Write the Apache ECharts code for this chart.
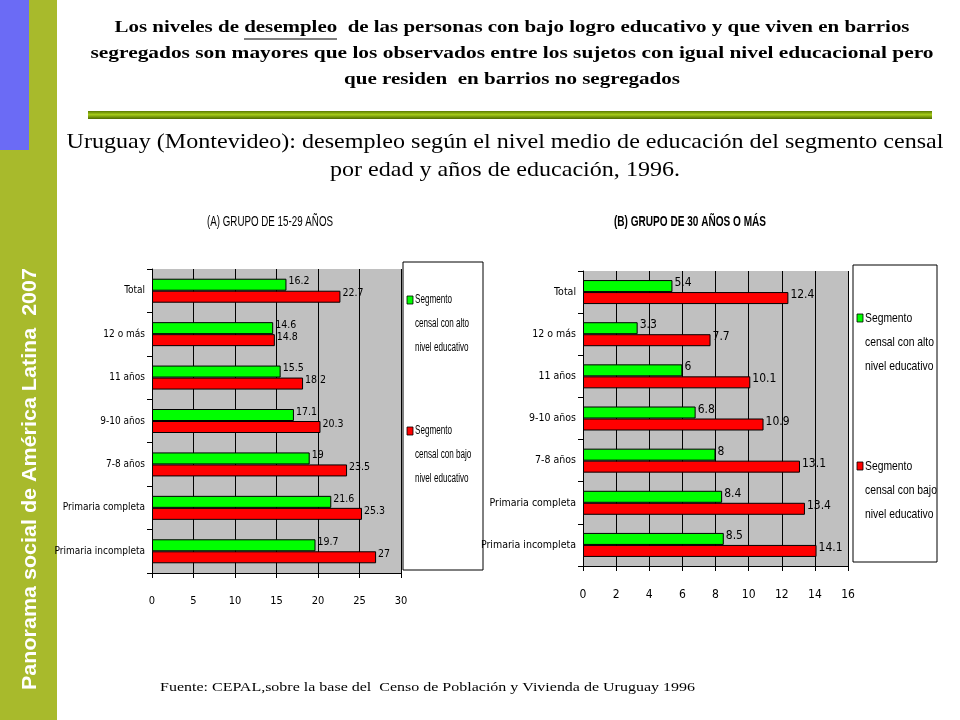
<!DOCTYPE html>
<html><head><meta charset="utf-8">
<script src="https://cdn.jsdelivr.net/npm/echarts@6/dist/echarts.min.js"></script>
<style>html,body{margin:0;padding:0;background:#fff}#c{width:960px;height:720px}</style>
</head><body><div id="c"></div>
<script>
const categories = ['Total', '12 o más', '11 años', '9-10 años', '7-8 años', 'Primaria completa', 'Primaria incompleta'];
const groupA_alto = [16.2, 14.6, 15.5, 17.1, 19, 21.6, 19.7];
const groupA_bajo = [22.7, 14.8, 18.2, 20.3, 23.5, 25.3, 27];
const groupB_alto = [5.4, 3.3, 6, 6.8, 8, 8.4, 8.5];
const groupB_bajo = [12.4, 7.7, 10.1, 10.9, 13.1, 13.4, 14.1];
const seriesNames = ['Segmento censal con alto nivel educativo', 'Segmento censal con bajo nivel educativo'];
const legendLines = [['Segmento', 'censal con alto', 'nivel educativo'], ['Segmento', 'censal con bajo', 'nivel educativo']];
const headline = ['Los niveles de desempleo  de las personas con bajo logro educativo y que viven en barrios',
  'segregados son mayores que los observados entre los sujetos con igual nivel educacional pero',
  'que residen  en barrios no segregados'];
const subtitle = ['Uruguay (Montevideo): desempleo según el nivel medio de educación del segmento censal',
  'por edad y años de educación, 1996.'];
const titleA = '(A) GRUPO DE 15-29 AÑOS';
const titleB = '(B) GRUPO DE 30 AÑOS O MÁS';
const sidebarText = 'Panorama social de América Latina  2007';
const source = 'Fuente: CEPAL,sobre la base del  Censo de Población y Vivienda de Uruguay 1996';

const GREEN = '#00ff00', RED = '#ff0000', GRAY = '#c0c0c0';
const NARROW = '"DejaVu Sans Condensed", "Liberation Sans Narrow", "Arial Narrow", "Roboto Condensed", sans-serif';
const SANS = 'Arial, "Liberation Sans", sans-serif';
const SERIF = '"Liberation Serif", "Times New Roman", serif';

const ctx = document.createElement('canvas').getContext('2d');
function fit(text, font, target) { ctx.font = font; return target / ctx.measureText(text).width; }

const chart = echarts.init(document.getElementById('c'), null, {renderer: 'canvas'});

function xAx(idx, max, interval, fs) {
  return {
    gridIndex: idx, type: 'value', min: 0, max: max, interval: interval,
    axisLine: {show: true, lineStyle: {color: '#000', width: 1}},
    axisTick: {show: true, length: 5, lineStyle: {color: '#000'}},
    axisLabel: {color: '#000', fontFamily: NARROW, fontSize: fs, margin: 23},
    splitLine: {show: true, lineStyle: {color: '#000', width: 1}}
  };
}
function yAx(idx, fs) {
  return {
    gridIndex: idx, type: 'category', data: categories, inverse: true,
    axisLine: {show: true, lineStyle: {color: '#000', width: 1}},
    axisTick: {show: true, length: 5, lineStyle: {color: '#000'}},
    axisLabel: {color: '#000', fontFamily: NARROW, fontSize: fs, margin: 7},
    splitLine: {show: false}
  };
}
function bar(idx, name, data, color, fs) {
  return {
    type: 'bar', name: name, xAxisIndex: idx, yAxisIndex: idx, data: data,
    barWidth: 12, barGap: '0%',
    itemStyle: {color: color, borderColor: '#000', borderWidth: 1},
    label: {show: true, position: 'right', distance: 2, offset: [0, -3], color: '#000', fontFamily: NARROW, fontSize: fs},
    animation: false
  };
}

const graphics = [];
function txt(x, y, text, font, target, align, extra) {
  const sx = target ? fit(text, font, target) : 1;
  graphics.push(Object.assign({type: 'text', x: x, y: y, scaleX: sx,
    style: {text: text, fill: '#000', font: font, align: align || 'center', verticalAlign: 'middle'}}, extra || {}));
}
// sidebar
graphics.push({type: 'rect', shape: {x: 0, y: 0, width: 57, height: 720}, style: {fill: '#a8ba2c'}, z: 0});
graphics.push({type: 'rect', shape: {x: 0, y: 0, width: 29, height: 150}, style: {fill: '#6b6bf5'}, z: 1});
(function () {
  const f = 'bold 20px ' + SANS;
  const s = fit(sidebarText, f, 422);
  graphics.push({type: 'text', x: 30, y: 479, rotation: Math.PI / 2, scaleX: s,
    style: {text: sidebarText, fill: '#fff', font: f, align: 'center', verticalAlign: 'middle'}, z: 2});
})();
// headline
const hw = [795, 843, 336];
headline.forEach((t, i) => txt(512, 28 + i * 26, t, 'bold 17px ' + SERIF, hw[i]));
graphics.push({type: 'line', shape: {x1: 244, y1: 39, x2: 337, y2: 39}, style: {stroke: '#000', lineWidth: 1.2}});
// green bar
graphics.push({type: 'rect', shape: {x: 88, y: 111, width: 844, height: 8},
  style: {fill: new echarts.graphic.LinearGradient(0, 0, 0, 1, [
    {offset: 0, color: '#5a7a00'}, {offset: 0.45, color: '#a6cc1a'}, {offset: 1, color: '#4d6a00'}])}});
const sw = [877, 350];
subtitle.forEach((t, i) => txt(505, 142 + i * 28, t, '22px ' + SERIF, sw[i]));
// chart titles
txt(270, 222, titleA, '15px ' + SANS, 126);
txt(690, 222, titleB, 'bold 15px ' + SANS, 152);
// legends
function legend(x, y, w, h, ys, fs, tw) {
  graphics.push({type: 'rect', shape: {x: x, y: y, width: w, height: h}, style: {fill: '#fff', stroke: '#000', lineWidth: 1}});
  [GREEN, RED].forEach((c, k) => {
    graphics.push({type: 'rect', shape: {x: x + 4, y: ys[k] - 4, width: 6, height: 8}, style: {fill: c, stroke: '#000', lineWidth: 0.8}});
    legendLines[k].forEach((ln, j) => {
      const f = fs + 'px ' + SANS;
      const s = tw / (function(){ctx.font = f; return ctx.measureText('censal con alto').width;})();
      graphics.push({type: 'text', x: x + 12, y: ys[k] + j * 24, scaleX: s,
        style: {text: ln, fill: '#000', font: f, verticalAlign: 'middle'}});
    });
  });
}
legend(403, 262, 80, 308, [300, 431], 12, 54);
legend(853, 265, 84, 297, [318, 466], 13, 69);
txt(160, 688, source, '13px ' + SERIF, 535, 'left');

chart.setOption({
  animation: false,
  backgroundColor: '#fff',
  grid: [
    {left: 152, top: 269, width: 249, height: 304, show: true, backgroundColor: GRAY, borderWidth: 0},
    {left: 583, top: 271, width: 265, height: 295, show: true, backgroundColor: GRAY, borderWidth: 0}
  ],
  xAxis: [xAx(0, 30, 5, 11), xAx(1, 16, 2, 12)],
  yAxis: [yAx(0, 10), yAx(1, 10.5)],
  series: [
    bar(0, seriesNames[0], groupA_alto, GREEN, 10.5),
    bar(0, seriesNames[1], groupA_bajo, RED, 10.5),
    bar(1, seriesNames[0], groupB_alto, GREEN, 12),
    bar(1, seriesNames[1], groupB_bajo, RED, 12)
  ],
  graphic: {elements: graphics}
});
</script></body></html>
